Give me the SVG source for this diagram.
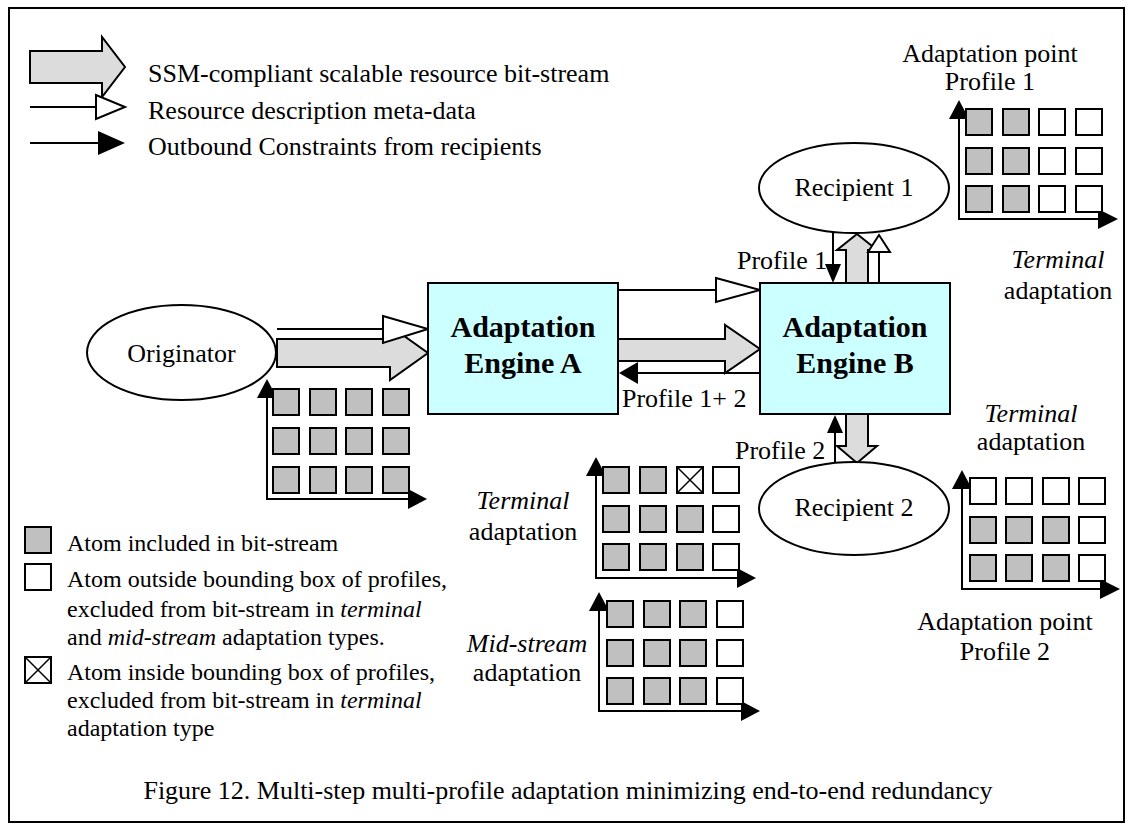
<svg xmlns="http://www.w3.org/2000/svg" width="1126" height="824" viewBox="0 0 1126 824">
  <defs>
    <style>
      text { font-family: "Liberation Serif", "Times New Roman", serif; font-size: 26px; fill: #000; }
      .small { font-size: 24px; }
      .bold { font-weight: bold; font-size: 30px; }
      .it { font-style: italic; }
      .mid { text-anchor: middle; }
      .frame { fill: #fff; stroke: #000; stroke-width: 2; }
      .node { fill: #fff; stroke: #000; stroke-width: 2; }
      .engine { fill: #ccffff; stroke: #000; stroke-width: 2; }
      .stream { fill: #dcdcdc; stroke: #000; stroke-width: 2; stroke-linejoin: miter; }
      .meta { fill: #fff; stroke: #000; stroke-width: 2; }
      .line { fill: none; stroke: #000; stroke-width: 2; }
      .head { fill: #000; stroke: none; }
      .in { fill: #c0c0c0; stroke: #000; stroke-width: 2; }
      .out { fill: #fff; stroke: #000; stroke-width: 2; }
      .cross { stroke: #000; stroke-width: 1.5; }
    </style>
    <rect id="atomIn" class="in" width="26" height="26"/>
    <rect id="atomOut" class="out" width="26" height="26"/>
    <g id="atomX">
      <rect class="out" width="26" height="26"/>
      <path class="cross" d="M0 0 L26 26 M26 0 L0 26"/>
    </g>
  </defs>

  <rect class="frame" x="9" y="8" width="1115" height="814"/>

  <!-- legend: arrow types -->
  <g id="legend-arrows">
    <path class="stream" d="M30 51 H102 V37 L125 67 L102 97 V83 H30 Z"/>
    <text x="148" y="82">SSM-compliant scalable resource bit-stream</text>
    <line class="line" x1="30" y1="107" x2="96" y2="107"/>
    <path class="meta" d="M96 95 L125 107 L96 119 Z"/>
    <text x="148" y="119">Resource description meta-data</text>
    <line class="line" x1="30" y1="143" x2="100" y2="143"/>
    <path class="head" d="M98 131 L125 143 L98 155 Z"/>
    <text x="148" y="155">Outbound Constraints from recipients</text>
  </g>

  <!-- connectors -->
  <g id="connectors">
    <!-- originator to engine A -->
    <path class="stream" d="M277 339 H390 V326 L428 353 L390 380 V367 H277 Z"/>
    <line class="line" x1="277" y1="329" x2="384" y2="329"/>
    <path class="meta" d="M383 316 L428 329 L383 343 Z"/>
    <!-- engine A to engine B -->
    <line class="line" x1="618" y1="290" x2="716" y2="290"/>
    <path class="meta" d="M716 278 L760 290 L716 302 Z"/>
    <path class="stream" d="M618 339 H725 V325 L760 349 L725 373 V361 H618 Z"/>
    <line class="line" x1="760" y1="373" x2="636" y2="373"/>
    <path class="head" d="M638 362 L619 373 L638 384 Z"/>
    <!-- engine B and recipient 1 -->
    <line class="line" x1="833" y1="232" x2="833" y2="266"/>
    <path class="head" d="M825 264 L841 264 L833 283 Z"/>
    <path class="stream" d="M846 283 V250 H837 L857 234 L877 250 H868 V283 Z"/>
    <line class="line" x1="879" y1="283" x2="879" y2="251"/>
    <path class="meta" d="M868 252 L879 235 L890 252 Z"/>
    <!-- engine B and recipient 2 -->
    <line class="line" x1="835" y1="463" x2="835" y2="430"/>
    <path class="head" d="M827 433 L835 415 L843 433 Z"/>
    <path class="stream" d="M846 414 V446 H837 L857 463 L877 446 H868 V414 Z"/>
  </g>

  <!-- nodes -->
  <g id="originator">
    <ellipse class="node" cx="181.5" cy="352.5" rx="94.5" ry="47.5"/>
    <text class="mid" x="181.5" y="362">Originator</text>
  </g>
  <g id="engine-a">
    <rect class="engine" x="428" y="283" width="190" height="131"/>
    <text class="bold mid" x="523" y="337">Adaptation</text>
    <text class="bold mid" x="523" y="373">Engine A</text>
  </g>
  <g id="engine-b">
    <rect class="engine" x="760" y="283" width="190" height="131"/>
    <text class="bold mid" x="855" y="337">Adaptation</text>
    <text class="bold mid" x="855" y="373">Engine B</text>
  </g>
  <g id="recipient-1">
    <ellipse class="node" cx="854" cy="188" rx="95" ry="45"/>
    <text class="mid" x="854" y="196">Recipient 1</text>
  </g>
  <g id="recipient-2">
    <ellipse class="node" cx="854" cy="508.5" rx="95" ry="46.5"/>
    <text class="mid" x="854" y="516">Recipient 2</text>
  </g>

  <!-- connector labels -->
  <g id="labels">
    <text x="737" y="269">Profile 1</text>
    <text x="622" y="407">Profile 1+ 2</text>
    <text x="735" y="459">Profile 2</text>
  </g>

  <!-- atom grid at the originator -->
  <g id="grid-originator">
    <line class="line" x1="267" y1="396" x2="267" y2="499"/>
    <path class="head" d="M257 398 L267 379 L277 398 Z"/>
    <line class="line" x1="266" y1="499" x2="410" y2="499"/>
    <path class="head" d="M408 489 L427 499 L408 509 Z"/>
    <use href="#atomIn" x="273" y="389"/><use href="#atomIn" x="310" y="389"/><use href="#atomIn" x="346" y="389"/><use href="#atomIn" x="383" y="389"/>
    <use href="#atomIn" x="273" y="428"/><use href="#atomIn" x="310" y="428"/><use href="#atomIn" x="346" y="428"/><use href="#atomIn" x="383" y="428"/>
    <use href="#atomIn" x="273" y="467"/><use href="#atomIn" x="310" y="467"/><use href="#atomIn" x="346" y="467"/><use href="#atomIn" x="383" y="467"/>
  </g>

  <!-- adaptation point for profile 1 -->
  <g id="grid-profile-1">
    <text class="mid" x="990" y="62">Adaptation point</text>
    <text class="mid" x="990" y="90">Profile 1</text>
    <line class="line" x1="959" y1="117" x2="959" y2="219"/>
    <path class="head" d="M949 119 L959 100 L969 119 Z"/>
    <line class="line" x1="958" y1="219" x2="1100" y2="219"/>
    <path class="head" d="M1098 209 L1118 219 L1098 229 Z"/>
    <use href="#atomIn" x="966" y="109"/><use href="#atomIn" x="1003" y="109"/><use href="#atomOut" x="1039" y="109"/><use href="#atomOut" x="1076" y="109"/>
    <use href="#atomIn" x="966" y="148"/><use href="#atomIn" x="1003" y="148"/><use href="#atomOut" x="1039" y="148"/><use href="#atomOut" x="1076" y="148"/>
    <use href="#atomIn" x="966" y="186"/><use href="#atomIn" x="1003" y="186"/><use href="#atomOut" x="1039" y="186"/><use href="#atomOut" x="1076" y="186"/>
    <text class="it mid" x="1058" y="268">Terminal</text>
    <text class="mid" x="1058" y="299">adaptation</text>
  </g>

  <!-- terminal adaptation after engine B -->
  <g id="grid-terminal">
    <text class="it mid" x="523" y="509">Terminal</text>
    <text class="mid" x="523" y="540">adaptation</text>
    <line class="line" x1="596" y1="474" x2="596" y2="578"/>
    <path class="head" d="M586 476 L596 457 L606 476 Z"/>
    <line class="line" x1="595" y1="578" x2="739" y2="578"/>
    <path class="head" d="M737 568 L756 578 L737 588 Z"/>
    <use href="#atomIn" x="603" y="467"/><use href="#atomIn" x="640" y="467"/><use href="#atomX" x="677" y="467"/><use href="#atomOut" x="713" y="467"/>
    <use href="#atomIn" x="603" y="506"/><use href="#atomIn" x="640" y="506"/><use href="#atomIn" x="677" y="506"/><use href="#atomOut" x="713" y="506"/>
    <use href="#atomIn" x="603" y="544"/><use href="#atomIn" x="640" y="544"/><use href="#atomIn" x="677" y="544"/><use href="#atomOut" x="713" y="544"/>
  </g>

  <!-- mid-stream adaptation -->
  <g id="grid-mid-stream">
    <text class="it mid" x="527" y="652">Mid-stream</text>
    <text class="mid" x="527" y="681">adaptation</text>
    <line class="line" x1="599" y1="609" x2="599" y2="711"/>
    <path class="head" d="M589 611 L599 592 L609 611 Z"/>
    <line class="line" x1="598" y1="711" x2="743" y2="711"/>
    <path class="head" d="M741 701 L760 711 L741 721 Z"/>
    <use href="#atomIn" x="607" y="601"/><use href="#atomIn" x="644" y="601"/><use href="#atomIn" x="680" y="601"/><use href="#atomOut" x="717" y="601"/>
    <use href="#atomIn" x="607" y="640"/><use href="#atomIn" x="644" y="640"/><use href="#atomIn" x="680" y="640"/><use href="#atomOut" x="717" y="640"/>
    <use href="#atomIn" x="607" y="678"/><use href="#atomIn" x="644" y="678"/><use href="#atomIn" x="680" y="678"/><use href="#atomOut" x="717" y="678"/>
  </g>

  <!-- adaptation point for profile 2 -->
  <g id="grid-profile-2">
    <text class="it mid" x="1031" y="422">Terminal</text>
    <text class="mid" x="1031" y="450">adaptation</text>
    <line class="line" x1="962" y1="487" x2="962" y2="589"/>
    <path class="head" d="M952 489 L962 470 L972 489 Z"/>
    <line class="line" x1="961" y1="589" x2="1102" y2="589"/>
    <path class="head" d="M1100 579 L1120 589 L1100 599 Z"/>
    <use href="#atomOut" x="970" y="478"/><use href="#atomOut" x="1006" y="478"/><use href="#atomOut" x="1043" y="478"/><use href="#atomOut" x="1079" y="478"/>
    <use href="#atomIn" x="970" y="517"/><use href="#atomIn" x="1006" y="517"/><use href="#atomIn" x="1043" y="517"/><use href="#atomOut" x="1079" y="517"/>
    <use href="#atomIn" x="970" y="555"/><use href="#atomIn" x="1006" y="555"/><use href="#atomIn" x="1043" y="555"/><use href="#atomOut" x="1079" y="555"/>
    <text class="mid" x="1005" y="630">Adaptation point</text>
    <text class="mid" x="1005" y="660">Profile 2</text>
  </g>

  <!-- legend: atom types -->
  <g id="legend-atoms">
    <use href="#atomIn" x="25" y="527"/>
    <text class="small" x="67" y="551">Atom included in bit-stream</text>
    <use href="#atomOut" x="25" y="564"/>
    <text class="small" x="67" y="587">Atom outside bounding box of profiles,</text>
    <text class="small" x="67" y="617">excluded from bit-stream in <tspan class="it">terminal</tspan></text>
    <text class="small" x="67" y="645">and <tspan class="it">mid-stream</tspan> adaptation types.</text>
    <use href="#atomX" x="25" y="657"/>
    <text class="small" x="67" y="680">Atom inside bounding box of profiles,</text>
    <text class="small" x="67" y="708">excluded from bit-stream in <tspan class="it">terminal</tspan></text>
    <text class="small" x="67" y="736">adaptation type</text>
  </g>

  <text class="mid" x="568" y="799">Figure 12. Multi-step multi-profile adaptation minimizing end-to-end redundancy</text>
</svg>
